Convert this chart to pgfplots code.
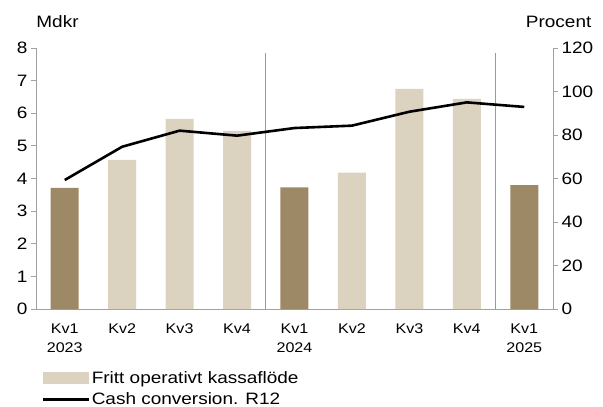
\documentclass[border=0pt]{standalone}
\usepackage{pgfplots}
\pgfplotsset{compat=1.18}
\usepackage{fontspec}
\setmainfont[FakeStretch=1.15]{Liberation Sans}
\definecolor{darkbar}{HTML}{9E8966}
\definecolor{lightbar}{HTML}{DBD2BF}
\definecolor{axgray}{HTML}{A0A0A0}
\definecolor{sepgray}{HTML}{9A9A9A}
\begin{document}
\begin{tikzpicture}
\useasboundingbox (-36pt,-98pt) rectangle (567pt,309pt);
\begin{axis}[
  at={(0pt,0pt)}, anchor=south west,
  scale only axis, width=517pt, height=261pt,
  xmin=-0.5, xmax=8.5, ymin=0, ymax=8,
  clip=false,
  axis x line*=bottom, axis y line*=left,
  axis line style={axgray, line width=0.8pt, -},
  xtick={0,...,8},
  xticklabels={{Kv1\\2023},Kv2,Kv3,Kv4,{Kv1\\2024},Kv2,Kv3,Kv4,{Kv1\\2025}},
  x tick label style={align=center, font=\fontsize{14}{19}\selectfont, yshift=-6pt},
  xtick style={draw=none},
  ytick={0,...,8},
  ytick style={axgray, line width=0.8pt},
  tick align=outside, major tick length=5pt,
  y tick label style={font=\fontsize{16.5}{19}\selectfont},
  /pgf/number format/assume math mode=true,
  legend style={at={(0.0116,-0.235)}, anchor=north west, draw=none, fill=none,
    font=\fontsize{16.5}{19}\selectfont, row sep=6pt, inner sep=0pt,
    nodes={inner sep=1pt}},
  legend cell align=left,
]
\addplot[ybar, bar width=28pt, bar shift=0pt, fill=darkbar, draw=none, forget plot]
  coordinates {(0,3.71) (4,3.73) (8,3.80)};
\addplot[ybar, bar width=28pt, bar shift=0pt, fill=lightbar, draw=none,
  legend image code/.code={\fill[lightbar] (0pt,-6pt) rectangle (46pt,6pt);}]
  coordinates {(1,4.57) (2,5.83) (3,5.46) (5,4.18) (6,6.75) (7,6.44)};
\addlegendentry{Fritt operativt kassaflöde}
\addlegendimage{black, line width=2.6pt, legend image code/.code={\draw[black, line width=2.6pt] (0pt,0pt) -- (46pt,0pt);}}
\addlegendentry{Cash conversion. R12}
\addplot[sepgray, line width=0.8pt, forget plot] coordinates {(3.5,0) (3.5,7.85)};
\addplot[sepgray, line width=0.8pt, forget plot] coordinates {(7.5,0) (7.5,7.85)};
\node[anchor=base west, font=\fontsize{16.5}{19}\selectfont] at (rel axis cs:-0.006,1.08) {Mdkr};
\node[anchor=base east, font=\fontsize{16.5}{19}\selectfont] at (rel axis cs:1.081,1.08) {Procent};
\end{axis}
\begin{axis}[
  at={(0pt,0pt)}, anchor=south west,
  scale only axis, width=517pt, height=261pt,
  xmin=-0.5, xmax=8.5, ymin=0, ymax=120,
  axis x line=none, axis y line*=right,
  axis line style={axgray, line width=0.8pt, -},
  ytick={0,20,...,120},
  ytick style={axgray, line width=0.8pt},
  tick align=outside, major tick length=5pt,
  y tick label style={font=\fontsize{16.5}{19}\selectfont},
  /pgf/number format/assume math mode=true,
]
\addplot[black, line width=2.6pt, line join=round, mark=none]
  coordinates {(0,59.3) (1,74.6) (2,82.0) (3,79.7) (4,83.2) (5,84.3) (6,90.7) (7,95.0) (8,92.9)};
\end{axis}
\end{tikzpicture}
\end{document}
